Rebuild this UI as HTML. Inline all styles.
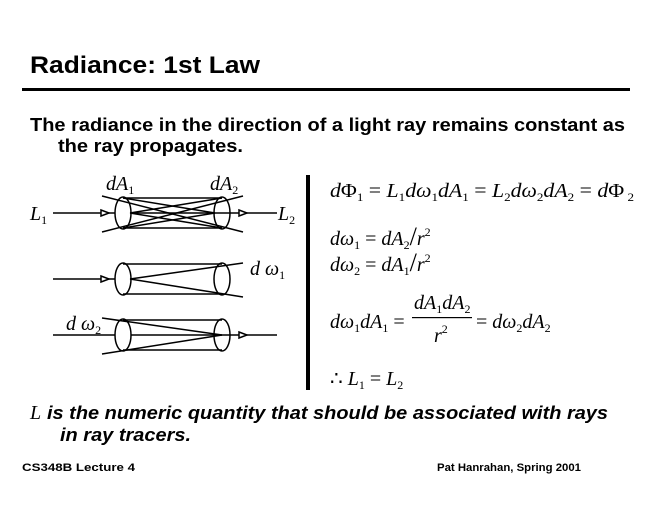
<!DOCTYPE html>
<html><head><meta charset="utf-8"><style>
html,body{margin:0;padding:0;background:#fff;}
svg{display:block;}
.s{font-family:"Liberation Sans",sans-serif;font-weight:bold;fill:#000;}
.m{font-family:"Liberation Serif",serif;font-style:italic;fill:#000;font-size:20px;}
.u{font-style:normal;}
</style></head><body>
<svg width="660" height="510" viewBox="0 0 660 510" xmlns="http://www.w3.org/2000/svg">
<text class="s" x="30" y="73" font-size="24" textLength="230" lengthAdjust="spacingAndGlyphs">Radiance: 1st Law</text>
<rect x="22" y="88" width="608" height="3" fill="#000"/>
<text class="s" x="30" y="131" font-size="18" textLength="595" lengthAdjust="spacingAndGlyphs">The radiance in the direction of a light ray remains constant as</text>
<text class="s" x="58" y="152" font-size="18" textLength="185" lengthAdjust="spacingAndGlyphs">the ray propagates.</text>

<g stroke="#000" stroke-width="1.5" fill="none">
<!-- diagram 1 -->
<line x1="53" y1="213" x2="277" y2="213"/>
<ellipse cx="123" cy="213" rx="8" ry="16" fill="#fff"/>
<ellipse cx="222" cy="213" rx="8" ry="16"/>
<line x1="123" y1="198" x2="222" y2="198"/>
<line x1="123" y1="228" x2="222" y2="228"/>
<line x1="102" y1="196" x2="243" y2="232"/>
<line x1="102" y1="232" x2="243" y2="196"/>
<line x1="130" y1="213" x2="222" y2="198"/>
<line x1="130" y1="213" x2="222" y2="228"/>
<line x1="123" y1="198" x2="215" y2="213"/>
<line x1="123" y1="228" x2="215" y2="213"/>
<polygon points="101,210 109,213 101,216" fill="#fff"/>
<polygon points="239,210 247,213 239,216" fill="#fff"/>
<!-- diagram 2 -->
<line x1="53" y1="279" x2="130" y2="279"/>
<ellipse cx="123" cy="279" rx="8" ry="16" fill="#fff"/>
<ellipse cx="222" cy="279" rx="8" ry="16"/>
<line x1="123" y1="264" x2="222" y2="264"/>
<line x1="123" y1="294" x2="222" y2="294"/>
<line x1="130" y1="279" x2="243" y2="263"/>
<line x1="130" y1="279" x2="243" y2="297"/>
<polygon points="101,276 109,279 101,282" fill="#fff"/>
<!-- diagram 3 -->
<line x1="53" y1="335" x2="277" y2="335"/>
<ellipse cx="123" cy="335" rx="8" ry="16" fill="#fff"/>
<ellipse cx="222" cy="335" rx="8" ry="16"/>
<line x1="123" y1="320" x2="222" y2="320"/>
<line x1="123" y1="350" x2="222" y2="350"/>
<line x1="102" y1="318" x2="222" y2="335"/>
<line x1="102" y1="354" x2="222" y2="335"/>
<polygon points="239,332 247,335 239,338" fill="#fff"/>
</g>
<text class="m" x="106" y="190" font-size="19">dA<tspan font-size="12" dy="4" class="u">1</tspan></text>
<text class="m" x="210" y="190" font-size="19">dA<tspan font-size="12" dy="4" class="u">2</tspan></text>
<text class="m" x="30" y="220" font-size="19">L<tspan font-size="12" dy="4" class="u">1</tspan></text>
<text class="m" x="278" y="220" font-size="19">L<tspan font-size="12" dy="4" class="u">2</tspan></text>
<text class="m" x="250" y="275" font-size="19">d ω<tspan font-size="12" dy="4" class="u">1</tspan></text>
<text class="m" x="66" y="330" font-size="19">d ω<tspan font-size="12" dy="4" class="u">2</tspan></text>

<rect x="306" y="175" width="4" height="215" fill="#000"/>

<text class="m" x="330" y="197" textLength="304" lengthAdjust="spacingAndGlyphs">d<tspan class="u">Φ</tspan><tspan font-size="12" dy="4" class="u">1</tspan><tspan dy="-4" class="u"> = </tspan>L<tspan font-size="12" dy="4" class="u">1</tspan><tspan dy="-4">dω</tspan><tspan font-size="12" dy="4" class="u">1</tspan><tspan dy="-4">dA</tspan><tspan font-size="12" dy="4" class="u">1</tspan><tspan dy="-4" class="u"> = </tspan>L<tspan font-size="12" dy="4" class="u">2</tspan><tspan dy="-4">dω</tspan><tspan font-size="12" dy="4" class="u">2</tspan><tspan dy="-4">dA</tspan><tspan font-size="12" dy="4" class="u">2</tspan><tspan dy="-4" class="u"> = </tspan>d<tspan class="u">Φ</tspan><tspan font-size="12" dy="4" class="u"> 2</tspan></text>
<text class="m" x="330" y="245">dω<tspan font-size="12" dy="4" class="u">1</tspan><tspan dy="-4" class="u"> = </tspan>dA<tspan font-size="12" dy="4" class="u">2</tspan><tspan dy="-4" class="u" font-size="26">/</tspan>r<tspan font-size="12" dy="-9" class="u">2</tspan></text>
<text class="m" x="330" y="271">dω<tspan font-size="12" dy="4" class="u">2</tspan><tspan dy="-4" class="u"> = </tspan>dA<tspan font-size="12" dy="4" class="u">1</tspan><tspan dy="-4" class="u" font-size="26">/</tspan>r<tspan font-size="12" dy="-9" class="u">2</tspan></text>
<text class="m" x="330" y="328">dω<tspan font-size="12" dy="4" class="u">1</tspan><tspan dy="-4">dA</tspan><tspan font-size="12" dy="4" class="u">1</tspan><tspan dy="-4" class="u"> =</tspan></text>
<text class="m" x="414" y="309">dA<tspan font-size="12" dy="4" class="u">1</tspan><tspan dy="-4">dA</tspan><tspan font-size="12" dy="4" class="u">2</tspan></text>
<rect x="412" y="317" width="60" height="1.2" fill="#000"/>
<text class="m" x="434" y="342">r<tspan font-size="12" dy="-9" class="u">2</tspan></text>
<text class="m" x="476" y="328"><tspan class="u">= </tspan>dω<tspan font-size="12" dy="4" class="u">2</tspan><tspan dy="-4">dA</tspan><tspan font-size="12" dy="4" class="u">2</tspan></text>
<text class="m" x="330" y="385"><tspan class="u">∴ </tspan>L<tspan font-size="12" dy="4" class="u">1</tspan><tspan dy="-4" class="u"> = </tspan>L<tspan font-size="12" dy="4" class="u">2</tspan></text>

<text class="m" x="30" y="419" font-size="20">L</text>
<text class="s" x="47" y="419" font-size="18" font-style="italic" textLength="561" lengthAdjust="spacingAndGlyphs">is the numeric quantity that should be associated with rays</text>
<text class="s" x="60" y="441" font-size="18" font-style="italic" textLength="131" lengthAdjust="spacingAndGlyphs">in ray tracers.</text>
<text class="s" x="22" y="471" font-size="11" textLength="113" lengthAdjust="spacingAndGlyphs">CS348B Lecture 4</text>
<text class="s" x="437" y="471" font-size="11" textLength="144" lengthAdjust="spacingAndGlyphs">Pat Hanrahan, Spring 2001</text>
</svg>
</body></html>
